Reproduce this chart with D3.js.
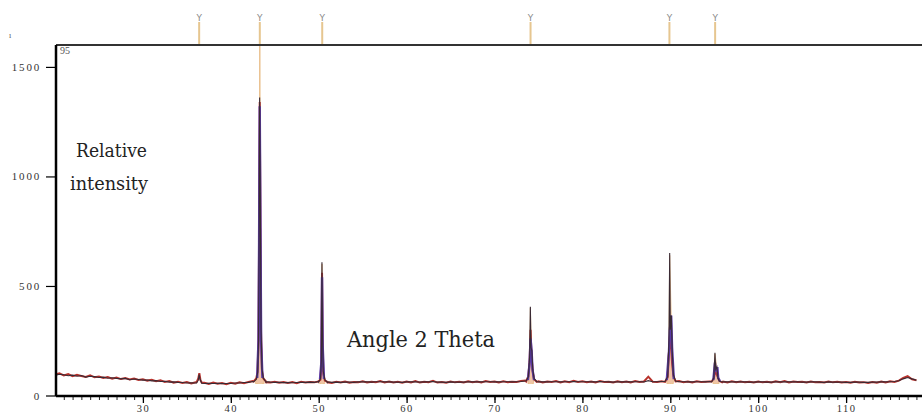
<!DOCTYPE html>
<html>
<head>
<meta charset="utf-8">
<script src="https://cdn.jsdelivr.net/npm/d3@7"></script>
<style>
  body { margin: 0; background: #fff; }
  svg { display: block; }
</style>
</head>
<body>
<script>
var width = 922, height = 414;

// background scan, one value every 0.5 degree
var angles = [
  20,20.5,21,21.5,22,22.5,23,23.5,24,24.5,25,25.5,26,26.5,27,27.5,28,28.5,29,29.5,
  30,30.5,31,31.5,32,32.5,33,33.5,34,34.5,35,35.5,36,36.5,37,37.5,38,38.5,39,39.5,
  40,40.5,41,41.5,42,42.5,43,43.5,44,44.5,45,45.5,46,46.5,47,47.5,48,48.5,49,49.5,
  50,50.5,51,51.5,52,52.5,53,53.5,54,54.5,55,55.5,56,56.5,57,57.5,58,58.5,59,59.5,
  60,60.5,61,61.5,62,62.5,63,63.5,64,64.5,65,65.5,66,66.5,67,67.5,68,68.5,69,69.5,
  70,70.5,71,71.5,72,72.5,73,73.5,74,74.5,75,75.5,76,76.5,77,77.5,78,78.5,79,79.5,
  80,80.5,81,81.5,82,82.5,83,83.5,84,84.5,85,85.5,86,86.5,87,87.5,88,88.5,89,89.5,
  90,90.5,91,91.5,92,92.5,93,93.5,94,94.5,95,95.5,96,96.5,97,97.5,98,98.5,99,99.5,
  100,100.5,101,101.5,102,102.5,103,103.5,104,104.5,105,105.5,106,106.5,107,107.5,108,108.5,109,109.5,
  110,110.5,111,111.5,112,112.5,113,113.5,114,114.5,115,115.5,116,116.5,117,117.5,118
];

var observed = [
  96,101,92,98,88,94,89,85,92,83,87,80,84,77,82,75,80,73,77,71,
  74,68,72,65,69,62,66,58,63,57,61,55,60,56,58,53,59,54,57,52,
  58,54,60,56,62,66,70,68,64,59,63,58,62,57,61,56,63,59,62,60,
  64,66,62,57,63,59,64,58,62,60,65,59,63,61,66,60,64,59,63,58,
  64,60,66,59,63,61,67,59,62,58,64,60,63,59,65,61,64,60,66,62,
  64,60,65,61,63,62,66,68,70,68,65,60,64,62,66,60,65,61,67,62,
  65,61,64,60,66,62,63,59,65,61,64,60,66,62,64,86,63,62,65,68,
  66,64,66,61,64,60,65,62,63,64,66,65,64,60,65,61,64,60,63,59,
  64,60,63,59,65,61,66,60,64,62,63,59,64,60,62,59,64,60,63,59,
  62,58,63,59,61,57,62,58,64,60,65,62,68,80,88,74,70
];

var calculated = [
  92,97,95,90,93,88,91,84,88,86,82,84,79,81,78,76,78,72,75,73,
  70,71,67,68,64,65,61,62,60,59,57,58,57,58,55,56,55,56,54,55,
  55,57,57,59,60,64,70,68,62,61,60,60,59,59,58,59,60,60,61,60,
  64,66,60,60,61,60,61,61,60,62,62,62,61,63,63,62,62,61,61,60,
  62,62,63,61,62,62,64,61,61,60,62,61,61,61,63,62,62,62,63,63,
  62,62,63,63,62,63,64,66,70,68,62,62,62,63,63,62,63,63,64,63,
  63,63,62,62,64,63,62,61,63,62,62,62,63,63,62,68,63,63,64,66,
  66,64,63,63,62,62,63,63,62,64,65,64,62,62,63,62,62,62,61,61,
  62,62,61,61,63,62,63,62,62,63,61,61,62,62,61,60,62,61,61,61,
  60,60,61,61,60,60,61,61,62,62,63,64,67,76,82,76,70
];

// peak profiles [angle, intensity]
var calcPeaks = [
  [[36.1,57],[36.3,70],[36.4,96],[36.5,74],[36.7,56]],
  [[42.6,62],[42.9,74],[43.05,105],[43.15,240],[43.22,700],[43.28,1360],[43.36,900],[43.44,300],[43.55,120],[43.7,80],[44.0,63]],
  [[50.0,63],[50.2,76],[50.3,160],[50.37,608],[50.44,260],[50.52,110],[50.7,72],[51.0,62]],
  [[73.6,66],[73.85,85],[74.0,180],[74.08,405],[74.15,220],[74.25,205],[74.35,120],[74.5,78],[74.8,64]],
  [[89.4,64],[89.7,86],[89.85,250],[89.93,650],[90.0,300],[90.12,365],[90.22,200],[90.35,95],[90.6,66]],
  [[94.7,62],[94.95,80],[95.08,195],[95.17,120],[95.3,130],[95.42,80],[95.6,65],[95.9,62]]
];

var obsPeaks = [
  [[36.1,60],[36.3,78],[36.42,102],[36.55,70],[36.7,58]],
  [[42.6,64],[42.9,78],[43.05,110],[43.15,260],[43.22,720],[43.29,1340],[43.36,880],[43.44,290],[43.55,115],[43.7,78],[44.0,60]],
  [[50.0,66],[50.2,72],[50.3,150],[50.38,560],[50.45,240],[50.53,100],[50.7,68],[51.0,60]],
  [[73.6,64],[73.85,88],[74.0,160],[74.1,300],[74.2,190],[74.35,110],[74.5,74],[74.8,62]],
  [[89.4,62],[89.7,84],[89.85,200],[89.95,270],[90.05,250],[90.2,150],[90.35,90],[90.6,64]],
  [[94.7,64],[94.95,78],[95.1,110],[95.25,100],[95.4,85],[95.6,66],[95.9,60]]
];

var bluePeaks = [
  [[43.0,80],[43.15,250],[43.22,700],[43.29,1320],[43.36,860],[43.45,250],[43.6,80]],
  [[50.15,75],[50.3,150],[50.38,540],[50.45,230],[50.6,75]],
  [[73.8,70],[74.0,150],[74.1,260],[74.22,205],[74.32,120],[74.5,70]],
  [[89.6,70],[89.85,200],[89.95,300],[90.1,365],[90.2,220],[90.4,75]],
  [[94.9,70],[95.08,150],[95.2,110],[95.35,130],[95.45,80],[95.65,66]]
];

var profilePeaks = [
  [[42.8,58],[43.1,110],[43.2,400],[43.3,1700],[43.4,400],[43.5,110],[43.8,58]],
  [[50.1,58],[50.3,150],[50.38,600],[50.46,150],[50.7,58]],
  [[73.8,58],[74.0,140],[74.08,400],[74.2,200],[74.45,58]],
  [[89.6,58],[89.85,240],[89.93,640],[90.1,360],[90.35,58]],
  [[94.85,58],[95.08,190],[95.3,125],[95.55,58]]
];

var markerAngles = [36.4, 43.3, 50.4, 74.1, 89.9, 95.1];
var xTicks = [30, 40, 50, 60, 70, 80, 90, 100, 110];
var yTicks = [0, 500, 1000, 1500];

var svg = d3.select("body").append("svg")
    .attr("width", width)
    .attr("height", height);

var x = d3.scaleLinear().domain([20, 120]).range([55, 934]);
var y = d3.scaleLinear().domain([0, 1600]).range([395.5, 45]);

svg.append("clipPath").attr("id", "plot")
  .append("rect").attr("x", 56).attr("y", 45).attr("width", width - 56).attr("height", 351);

// merge background with peak points, dropping grid points inside each peak
function merge(values, peaks) {
    var pts = angles.map(function(a, i) { return [a, values[i]]; });
    pts = pts.filter(function(p) {
        return !peaks.some(function(g) { return p[0] > g[0][0] && p[0] < g[g.length - 1][0]; });
    });
    peaks.forEach(function(g) { pts = pts.concat(g); });
    return pts.sort(function(a, b) { return a[0] - b[0]; });
}

var line = d3.line()
    .x(function(d) { return x(d[0]); })
    .y(function(d) { return y(d[1]); });

var area = d3.area()
    .x(function(d) { return x(d[0]); })
    .y0(y(55))
    .y1(function(d) { return y(d[1]); });

var g = svg.append("g").attr("clip-path", "url(#plot)");

g.selectAll("path.profile")
    .data(profilePeaks)
    .enter().append("path")
    .attr("class", "profile")
    .attr("d", area)
    .attr("fill", "#f0c4a6")
    .attr("stroke", "#e9c08e")
    .attr("stroke-width", 1);

g.append("path")
    .datum(merge(observed, obsPeaks))
    .attr("d", line)
    .attr("fill", "none")
    .attr("stroke", "#b8322c")
    .attr("stroke-width", 2);

g.selectAll("path.blue")
    .data(bluePeaks)
    .enter().append("path")
    .attr("class", "blue")
    .attr("d", line)
    .attr("fill", "none")
    .attr("stroke", "#5a3aa8")
    .attr("stroke-width", 2.4);

g.append("path")
    .datum(merge(calculated, calcPeaks))
    .attr("d", line)
    .attr("fill", "none")
    .attr("stroke", "#3a2a34")
    .attr("stroke-width", 1.1);

// reflection markers above the frame
var marks = svg.selectAll("g.marker")
    .data(markerAngles)
    .enter().append("g")
    .attr("class", "marker");

marks.append("line")
    .attr("x1", function(d) { return x(d); })
    .attr("x2", function(d) { return x(d); })
    .attr("y1", 22)
    .attr("y2", 45)
    .attr("stroke", "#e6c690")
    .attr("stroke-width", 2);

marks.append("text")
    .attr("x", function(d) { return x(d); })
    .attr("y", 21)
    .attr("text-anchor", "middle")
    .attr("font-family", "DejaVu Sans, sans-serif")
    .attr("font-size", 9)
    .attr("fill", "#8a8a8a")
    .text("Y");

// frame
svg.append("line").attr("x1", 56).attr("x2", width).attr("y1", 45).attr("y2", 45)
    .attr("stroke", "#333").attr("stroke-width", 2);

var yAxis = svg.append("g")
    .attr("transform", "translate(56,0)")
    .call(d3.axisLeft(y).tickValues(yTicks).tickSize(10).tickPadding(5).tickFormat(d3.format("d")));
yAxis.select(".domain").attr("d", "M0,45V396").attr("stroke-width", 2.5);
yAxis.selectAll(".tick line").attr("stroke-width", 1.2);
yAxis.selectAll(".tick text")
    .attr("font-family", "Liberation Serif, serif")
    .attr("font-size", 11).attr("letter-spacing", 1.8).attr("fill", "#333");

var xMinor = svg.append("g")
    .attr("transform", "translate(0,396)")
    .call(d3.axisBottom(x).tickValues(d3.range(21, 120)).tickSize(4).tickFormat(""));
xMinor.select(".domain").remove();
xMinor.selectAll(".tick line").attr("stroke", "#222");

var xAxis = svg.append("g")
    .attr("transform", "translate(0,396)")
    .call(d3.axisBottom(x).tickValues(xTicks).tickSize(7).tickPadding(2));
xAxis.select(".domain").attr("d", "M56,0H" + width).attr("stroke-width", 2.5);
xAxis.selectAll(".tick line").attr("stroke-width", 1.3);
xAxis.selectAll(".tick text")
    .attr("font-family", "Liberation Serif, serif")
    .attr("font-size", 10.5).attr("letter-spacing", 1.5).attr("fill", "#333");

// labels
svg.append("text").attr("x", 60).attr("y", 54)
    .attr("font-family", "Liberation Serif, serif").attr("font-size", 10).attr("fill", "#555")
    .text("95");

svg.append("text").attr("x", 9).attr("y", 38)
    .attr("font-family", "Liberation Serif, serif").attr("font-size", 8).attr("fill", "#555")
    .text("ı");

var serif = "DejaVu Serif, serif";
svg.append("text").attr("x", 76).attr("y", 157)
    .attr("font-family", serif).attr("font-size", 19).attr("fill", "#222")
    .attr("textLength", 71).attr("lengthAdjust", "spacingAndGlyphs")
    .text("Relative");
svg.append("text").attr("x", 70).attr("y", 190)
    .attr("font-family", serif).attr("font-size", 19).attr("fill", "#222")
    .attr("textLength", 78).attr("lengthAdjust", "spacingAndGlyphs")
    .text("intensity");

svg.append("text").attr("x", 347).attr("y", 347)
    .attr("font-family", serif).attr("font-size", 23).attr("fill", "#222")
    .attr("textLength", 148).attr("lengthAdjust", "spacingAndGlyphs")
    .text("Angle 2 Theta");
</script>
</body>
</html>
